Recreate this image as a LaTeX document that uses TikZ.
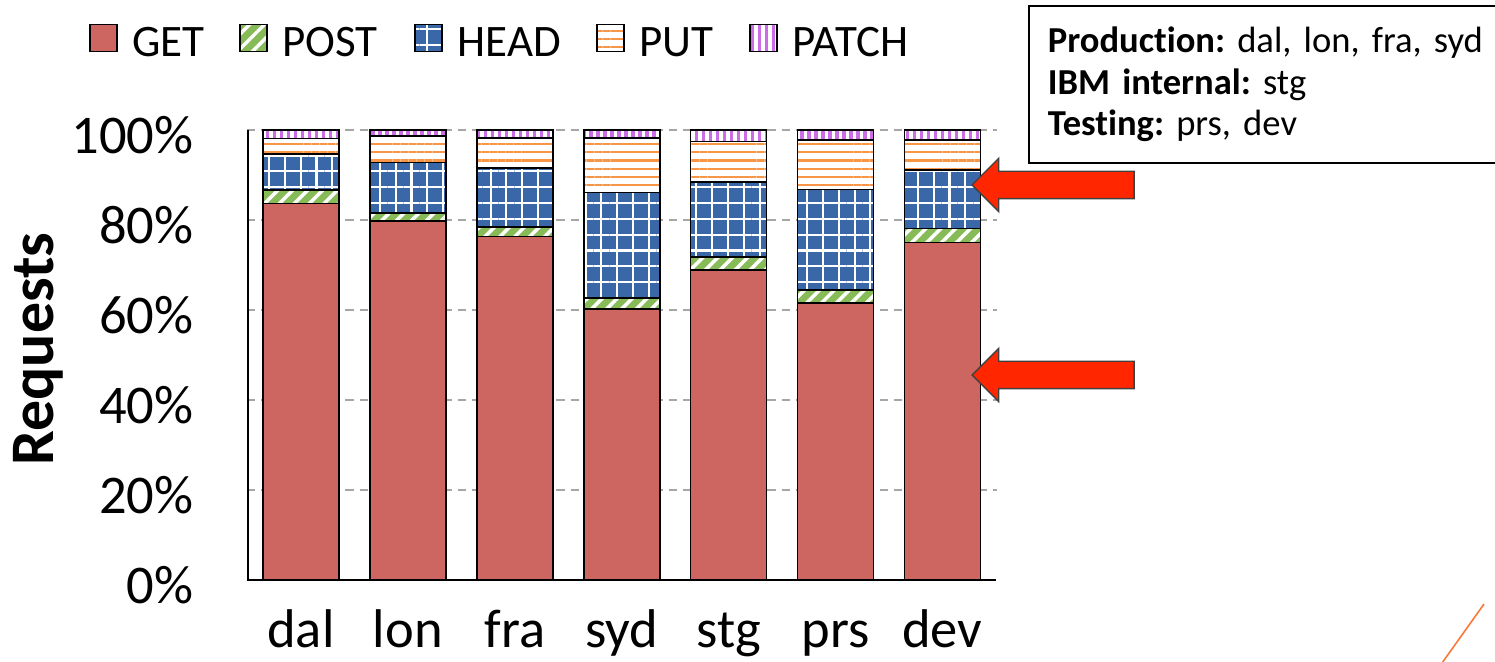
\documentclass[tikz,border=0pt]{standalone}
\usepackage{fontspec}
\setmainfont[Ligatures=NoCommon]{Carlito}
\usepackage{xcolor}
\usepackage{tikz}
\usetikzlibrary{arrows.meta,positioning,patterns.meta,shapes.arrows}
\frenchspacing

\definecolor{getred}{HTML}{CD6660}
\definecolor{postgreen}{HTML}{86BB58}
\definecolor{headblue}{HTML}{3A67A8}
\definecolor{putorange}{HTML}{F79646}
\definecolor{patchviolet}{HTML}{CC6DE8}
\definecolor{arrowred}{HTML}{FF2600}
\definecolor{gridgray}{HTML}{A6A6A6}

\begin{document}
\begin{tikzpicture}[
  x=0.01cm, y=-0.01cm,
  seg/.style={draw=black, line width=0.45pt},
  getseg/.style={seg, fill=getred},
  postseg/.style={seg, preaction={fill=postgreen}, pattern={Lines[angle=45,distance=3pt,line width=1pt]}, pattern color=white},
  headseg/.style={seg, preaction={fill=headblue}, pattern={Hatch[angle=0,distance=4.5pt,line width=0.6pt]}, pattern color=white},
  putseg/.style={seg, preaction={fill=white}, pattern={Lines[angle=0,distance=2.3pt,line width=0.6pt]}, pattern color=putorange},
  patchseg/.style={seg, preaction={fill=white}, pattern={Lines[angle=90,distance=2pt,line width=1pt]}, pattern color=patchviolet},
  legsq/.style={minimum size=0.27cm, inner sep=0pt},
  legtext/.style={font=\fontsize{12.8}{14}\selectfont, inner sep=0pt},
  ticklabel/.style={font=\fontsize{15.5}{17}\selectfont, inner sep=0pt, anchor=east},
  catlabel/.style={font=\fontsize{15.5}{17}\selectfont, inner sep=0pt, anchor=base},
  gridline/.style={gridgray, dashed, dash pattern=on 2.3pt off 1.7pt, line width=0.4pt},
  axisline/.style={black, line width=0.45pt},
  infobox/.style={draw, line width=0.45pt, align=left, text width=4.6cm, inner xsep=0.19cm,
    minimum width=4.8cm, minimum height=1.57cm, font=\fontsize{10.4}{11.9}\selectfont},
  redarrow/.style={single arrow, shape border rotate=180, fill=arrowred, draw=black!75, line width=0.4pt,
    minimum height=1.62cm, inner xsep=0pt, inner ysep=0.13cm, single arrow head extend=0.13cm,
    single arrow tip angle=90}
]
\useasboundingbox (0,0) rectangle (1495,662);

% grid and axes
\foreach \p in {20,40,60,80,100}{\draw[gridline] (247,{580-4.5*\p}) -- (997,{580-4.5*\p});}
\draw[axisline] (248,130) -- (248,580) -- (996,580);
\foreach \p in {0,20,40,60,80,100}{\node[ticklabel] (tick\p) at (194,{585-4.5*\p}) {\p\%};}
\node[rotate=90, anchor=base, inner sep=0pt, font=\fontsize{17.6}{20}\selectfont\bfseries] (ylab) at (53,349) {Requests};

% stacked bars: GET / POST / HEAD / PUT tops, PATCH up to 100%
\foreach \nm/\i/\a/\b/\c/\d in {dal/0/83.7/86.7/94.6/98.1, lon/1/79.8/81.6/92.8/98.7, fra/2/76.3/78.5/91.6/98.2,
  syd/3/60.2/62.7/86.1/98.2, stg/4/68.9/71.8/88.5/97.4, prs/5/61.5/64.4/86.8/97.8, dev/6/75.0/78.1/91.1/97.8}{
  \pgfmathsetmacro\xl{263+106.9*\i}
  \pgfmathsetmacro\xr{\xl+76}
  \draw[getseg] (\xl,580) rectangle (\xr,{580-4.5*\a});
  \draw[postseg] (\xl,{580-4.5*\a}) rectangle (\xr,{580-4.5*\b});
  \draw[headseg] (\xl,{580-4.5*\b}) rectangle (\xr,{580-4.5*\c});
  \draw[putseg] (\xl,{580-4.5*\c}) rectangle (\xr,{580-4.5*\d});
  \draw[patchseg] (\xl,{580-4.5*\d}) rectangle (\xr,130);
  \node[catlabel] (cat\nm) at ({\xl+38},648) {\nm};
}

% legend
\foreach \nm/\sx/\st in {GET/103.5/getseg, POST/253.5/postseg, HEAD/428.5/headseg, PUT/610.5/putseg, PATCH/763.5/patchseg}{
  \node[legsq, \st] (lg\nm) at (\sx,38) {};
  \node[legtext, right=0.14cm of lg\nm, yshift=-0.04cm] (lt\nm) {\nm};
}

% info box
\node[infobox, anchor=north west] (info) at (1028,5) {\textbf{Production:} dal, lon, fra, syd\\\textbf{IBM internal:} stg\\\textbf{Testing:} prs, dev};

% arrows
\node[redarrow, anchor=tip] (arrHead) at (971,185) {};
\node[redarrow, anchor=tip] (arrGet) at (971,375) {};

% corner stroke
\coordinate (strokeA) at (1442,663);
\coordinate (strokeB) at (1484,604);
\draw[putorange!80!red, line width=0.45pt] (strokeA) -- (strokeB);
\end{tikzpicture}
\end{document}
